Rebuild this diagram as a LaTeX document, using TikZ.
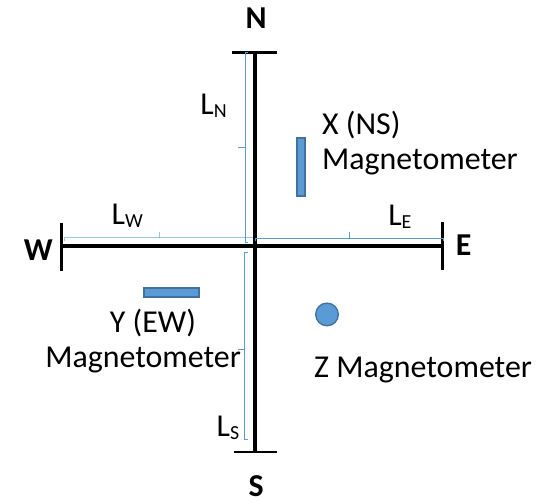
\documentclass[tikz,border=0pt]{standalone}
\usepackage{fontspec}
\setmainfont{Carlito}
\definecolor{magfill}{RGB}{91,155,213}
\definecolor{magedge}{RGB}{65,113,156}
\definecolor{braceblue}{RGB}{91,155,213}
\newcommand{\lensub}[2]{#1\raisebox{-2pt}{\fontsize{15}{15}\selectfont #2}}
\tikzset{
  axis/.style={line width=3pt},
  endbar/.style={line width=2.2pt},
  brace/.style={braceblue, line width=0.7pt},
  sensor/.style={fill=magfill, draw=magedge, line width=1pt},
  lbl/.style={font=\fontsize{24}{26.5}\selectfont, inner sep=0pt},
  dirlbl/.style={font=\fontsize{24}{26.5}\selectfont\bfseries, inner sep=0pt}
}
\begin{document}
\begin{tikzpicture}
\useasboundingbox (-6.746,-6.772) rectangle (7.778,6.508);
% axes with end bars
\draw[axis] (0,5.13) -- (0,-5.45);
\draw[axis] (-5.11,0) -- (4.95,0);
\draw[endbar] (-0.61,5.13) -- (0.58,5.13);
\draw[endbar] (-0.56,-5.45) -- (0.58,-5.45);
\draw[endbar] (-5.11,0.60) -- (-5.11,-0.66);
\draw[endbar] (4.95,0.64) -- (4.95,-0.64);
% length brackets
\draw[brace] (-0.18,5.13) -- (-0.25,5.13) -- (-0.25,0.09) -- (-0.18,0.09);
\draw[brace] (-0.25,2.6) -- (-0.44,2.6);
\draw[brace] (-0.19,-0.18) -- (-0.27,-0.18) -- (-0.27,-5.13) -- (-0.19,-5.13);
\draw[brace] (-0.27,-2.75) -- (-0.45,-2.75);
\draw[brace, draw opacity=0.6] (-5.03,0.14) -- (-5.03,0.22) -- (-0.05,0.22);
\draw[brace, draw opacity=0.6] (-2.54,0.22) -- (-2.54,0.38);
\draw[brace] (0.0,0.14) -- (0.0,0.21) -- (4.99,0.21) -- (4.99,0.14);
\draw[brace] (2.49,0.21) -- (2.49,0.38);
% magnetometers
\draw[sensor] (1.11,2.86) rectangle (1.32,1.32);
\draw[sensor] (-2.94,-1.11) rectangle (-1.48,-1.35);
\draw[sensor] (1.905,-1.81) circle (0.30);
% directions
\node[dirlbl] (north) at (0.03,6.03) {N};
\node[dirlbl] (south) at (0.03,-6.34) {S};
\node[dirlbl] (west) at (-5.73,-0.10) {W};
\node[dirlbl] (east) at (5.52,0.03) {E};
% lengths
\node[lbl, anchor=base west] (lenN) at (-1.45,3.47) {\lensub{L}{N}};
\node[lbl, anchor=base west] (lenS) at (-1.02,-5.05) {\lensub{L}{S}};
\node[lbl, anchor=base west] (lenW) at (-3.80,0.56) {\lensub{L}{W}};
\node[lbl, anchor=base west] (lenE) at (3.52,0.53) {\lensub{L}{E}};
% sensor labels
\node[lbl, anchor=north west, align=left] (xlbl) at (1.77,3.57) {X (NS)\\Magnetometer};
\node[lbl, anchor=north, align=center] (ylbl) at (-2.96,-1.67) {\hspace*{0.62em}Y (EW)\\Magnetometer};
\node[lbl, anchor=base west] (zlbl) at (1.56,-3.49) {Z Magnetometer};
\end{tikzpicture}
\end{document}
